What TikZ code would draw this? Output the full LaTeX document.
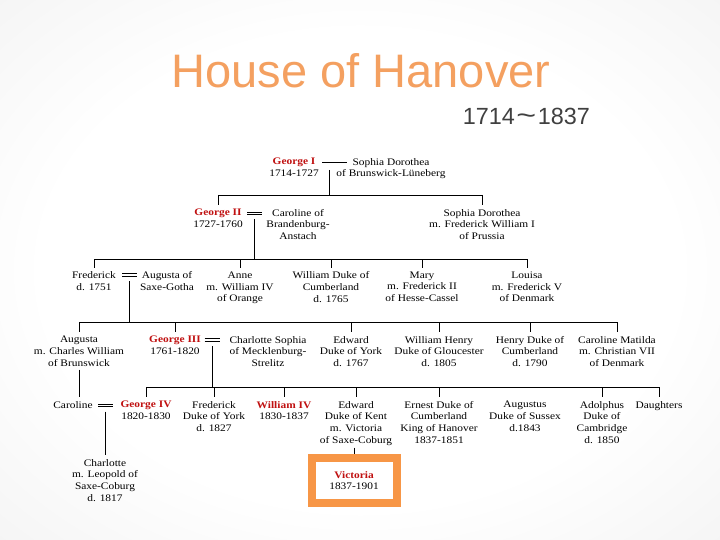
\documentclass[tikz,border=0pt]{standalone}
\usepackage{fontspec}
\setmainfont{Liberation Serif}
\newfontfamily\treefont[FakeStretch=1.14]{Liberation Serif}
\newfontfamily\titlefont{Liberation Sans}
\usetikzlibrary{calc}
\definecolor{namered}{RGB}{192,16,16}
\definecolor{vicorange}{RGB}{247,150,70}
\definecolor{titleorange}{RGB}{244,160,96}
\definecolor{subgray}{RGB}{64,64,64}
\pgfdeclareradialshading{bgshade}{\pgfpoint{0bp}{0bp}}{color(0bp)=(white); color(22bp)=(white); color(50bp)=(black!8); color(71bp)=(black!14)}
\newcommand\nm[1]{\textcolor{namered}{\bfseries #1}}
\newcommand\dblrule{\vbox{\hrule width 15pt height 0.75pt\vskip 1.7pt\hrule width 15pt height 0.75pt}}
\newcommand\sglrule[1]{\vbox{\hrule width #1 height 0.75pt}}
\begin{document}
\begin{tikzpicture}[x=1pt,y=-1pt,
  person/.style={font=\treefont\fontsize{10}{11.7}\selectfont, align=center, inner sep=0pt, anchor=north},
  tree/.style={line width=0.75pt, black},
  drop/.style={tree, shorten >=4pt},
  marr/.style={inner sep=0pt, outer sep=0pt}]
\shade[shading=bgshade] (0,0) rectangle (720,540);
\useasboundingbox (0,0) rectangle (720,540);

% titles
\node[font=\titlefont\fontsize{47}{50}\selectfont, text=titleorange, anchor=base, inner sep=0pt] (title) at (361,88) {House of Hanover};
\node[font=\titlefont\fontsize{23.4}{26}\selectfont, text=subgray, anchor=base east, inner sep=0pt] (years) at (590,125) {1714\kern1.5pt\scalebox{1.45}[1.15]{\textasciitilde}\kern1.5pt 1837};

% row 0
\node[person] (g1) at (294,158) {\nm{George I}\\1714-1727};
\node[person] (sd1) at (391,158) {Sophia Dorothea\\of Brunswick-Lüneberg};
\node[marr] (m1) at (334.5,162) {\sglrule{25pt}};

% row 1
\node[person] (g2) at (218,209) {\nm{George II}\\1727-1760};
\node[person] (car1) at (298,209) {Caroline of\\Brandenburg-\\Anstach};
\node[person] (sd2) at (482,209) {Sophia Dorothea\\m. Frederick William I\\of Prussia};
\node[marr] (m2) at (254.5,213.5) {\dblrule};

% row 2
\node[person] (fred) at (94,271.5) {Frederick\\d. 1751};
\node[person] (aug) at (167,271.5) {Augusta of\\Saxe-Gotha};
\node[person] (anne) at (240,271.5) {Anne\\m. William IV\\of Orange};
\node[person] (wdc) at (331,271.5) {William Duke of\\Cumberland\\d. 1765};
\node[person] (mary) at (422,271.5) {Mary\\m. Frederick II\\of Hesse-Cassel};
\node[person] (louisa) at (527,271.5) {Louisa\\m. Frederick V\\of Denmark};
\node[marr] (m2b) at (129.5,275) {\dblrule};

% row 3
\node[person] (aug3) at (79,336) {Augusta\\m. Charles William\\of Brunswick};
\node[person] (g3) at (175,336) {\nm{George III}\\1761-1820};
\node[person] (chs) at (268,336) {Charlotte Sophia\\of Mecklenburg-\\Strelitz};
\node[person] (edwY) at (351,336) {Edward\\Duke of York\\d. 1767};
\node[person] (willH) at (439,336) {William Henry\\Duke of Gloucester\\d. 1805};
\node[person] (henry) at (530,336) {Henry Duke of\\Cumberland\\d. 1790};
\node[person] (carmat) at (617,336) {Caroline Matilda\\m. Christian VII\\of Denmark};
\node[marr] (m3) at (212,340) {\dblrule};

% row 4
\node[person] (caroline) at (73,401) {Caroline};
\node[person] (g4) at (146,401) {\nm{George IV}\\1820-1830};
\node[person] (fredY) at (214,401) {Frederick\\Duke of York\\d. 1827};
\node[person] (w4) at (284,401) {\nm{William IV}\\1830-1837};
\node[person] (edwK) at (356,401) {Edward\\Duke of Kent\\m. Victoria\\of Saxe-Coburg};
\node[person] (ernest) at (439,401) {Ernest Duke of\\Cumberland\\King of Hanover\\1837-1851};
\node[person] (augustus) at (525,401) {Augustus\\Duke of Sussex\\d.1843};
\node[person] (adolphus) at (602,401) {Adolphus\\Duke of\\Cambridge\\d. 1850};
\node[person] (daughters) at (659,401) {Daughters};
\node[marr] (m4) at (105.5,405.5) {\dblrule};

% row 5
\node[person] (charlotte) at (105,459) {Charlotte\\m. Leopold of\\Saxe-Coburg\\d. 1817};
\node[person, anchor=center, draw=vicorange, line width=8pt, fill=white, minimum width=85pt, minimum height=45pt] (vic) at (354,480.5) {\nm{Victoria}\\1837-1901};

% connectors
\coordinate (h1) at (329,195);
\coordinate (h2) at (254.5,259);
\coordinate (h3) at (129.5,322);
\coordinate (h4) at (212,387);

\draw[tree, shorten <=8pt] ([xshift=-5.5pt]m1.center) -- (h1);
\draw[tree] (g2.north |- h1) -- (sd2.north |- h1);
\foreach \n in {g2,sd2} \draw[drop] (\n.north |- h1) -- (\n.north);

\draw[tree, shorten <=6pt] (m2.center) -- (h2);
\draw[tree] (fred.north |- h2) -- (louisa.north |- h2);
\foreach \n in {fred,anne,wdc,mary,louisa} \draw[drop] (\n.north |- h2) -- (\n.north);

\draw[tree, shorten <=6pt] (m2b.center) -- (h3);
\draw[tree] (aug3.north |- h3) -- (carmat.north |- h3);
\foreach \n in {aug3,g3,edwY,willH,henry,carmat} \draw[drop] (\n.north |- h3) -- (\n.north);

\draw[tree, shorten <=6pt] (m3.center) -- (h4);
\draw[tree] (g4.north |- h4) -- (daughters.north |- h4);
\foreach \n in {g4,fredY,w4,edwK,ernest,adolphus,daughters} \draw[drop] (\n.north |- h4) -- (\n.north);

\draw[tree, shorten <=3pt, shorten >=4pt] (aug3.south) -- (aug3.south |- caroline.north);
\draw[tree, shorten <=6pt, shorten >=4pt] (m4.center) -- (m4.center |- charlotte.north);
\draw[tree, shorten <=2pt] (vic.north |- edwK.south) -- (vic.north);
\end{tikzpicture}
\end{document}
